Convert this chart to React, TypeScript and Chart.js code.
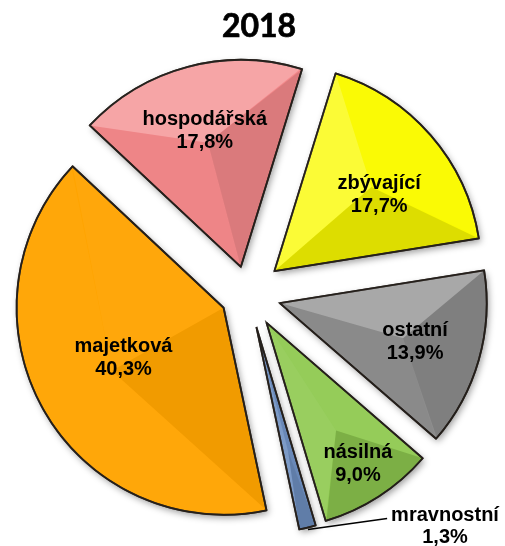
import React, { useEffect, useRef } from "react";
import { Chart, registerables, ArcElement } from "chart.js";

Chart.register(...registerables);

// ---- data ----
const TITLE = "2018";
const categories = ["zbývající", "ostatní", "násilná", "mravnostní", "majetková", "hospodářská"];
const shares = [17.7, 13.9, 9.0, 1.3, 40.3, 17.8];
const colors = ["#FAFA00", "#8E8E8E", "#8FCA50", "#6E8FC0", "#FFA400", "#F4898B"];

// ---- styling / layout constants ----
const EXPLODE = [35, 33, 34, 34, 28, 28];
const START_ROTATION = 17.2;
const PIE_RADIUS = 207;
const LABEL_PLACE: Array<{ r?: number; a?: number; outside?: boolean }> = [
  { r: 0.625, a: 5 },
  { r: 0.68, a: 0 },
  { r: 0.815, a: 0 },
  { outside: true },
  { r: 0.54, a: 3 },
  { r: 0.68, a: 0 },
];
const LABEL_FONT = 'bold 20px "Liberation Sans", Arial, sans-serif';

const fmt = (v: number) => v.toFixed(1).replace(".", ",") + "%";

// Exploded, bevelled arc drawing (geometry from Chart.js' own arc elements)
const proto: any = ArcElement.prototype;
if (!proto.__exploded) {
  proto.__exploded = true;
  const baseDraw = proto.draw;
  proto.draw = function (ctx: CanvasRenderingContext2D) {
    const x = this.x, y = this.y, s = this.startAngle, e = this.endAngle, R = this.outerRadius;
    if (!(e - s > 0) || R <= 0) return;
    const mid = (s + e) / 2;
    const ex0 = this.$explode || 0;
    ctx.save();
    ctx.translate(Math.cos(mid) * ex0, Math.sin(mid) * ex0);
    const path = () => {
      ctx.beginPath();
      ctx.moveTo(x, y);
      ctx.arc(x, y, R, s, e);
      ctx.closePath();
    };
    // shadow pass
    ctx.save();
    path();
    ctx.shadowColor = "rgba(0,0,0,0.4)";
    ctx.shadowBlur = 7;
    ctx.shadowOffsetX = 2;
    ctx.shadowOffsetY = 3;
    ctx.fillStyle = this.options.backgroundColor;
    ctx.fill();
    ctx.restore();
    // library fill + border
    baseDraw.call(this, ctx);
    // bevel facets
    ctx.save();
    path();
    ctx.clip();
    const L = { x: -0.6, y: -0.8 };
    const px = x + Math.cos(mid) * R * 0.62, py = y + Math.sin(mid) * R * 0.62;
    const bx = x + Math.cos(s) * R, by = y + Math.sin(s) * R;
    const ex = x + Math.cos(e) * R, ey = y + Math.sin(e) * R;
    const shade = (nx: number, ny: number) => {
      const b = nx * L.x + ny * L.y;
      return b > 0 ? `rgba(255,255,255,${(0.26 * b).toFixed(3)})` : `rgba(0,0,0,${(-0.13 * b).toFixed(3)})`;
    };
    ctx.beginPath();
    ctx.moveTo(x, y); ctx.lineTo(bx, by); ctx.lineTo(px, py); ctx.closePath();
    ctx.fillStyle = shade(Math.sin(s), -Math.cos(s));
    ctx.fill();
    ctx.beginPath();
    ctx.moveTo(px, py); ctx.lineTo(bx, by); ctx.arc(x, y, R + 2, s, e); ctx.lineTo(px, py); ctx.closePath();
    ctx.fillStyle = shade(Math.cos(mid), Math.sin(mid));
    ctx.fill();
    ctx.beginPath();
    ctx.moveTo(x, y); ctx.lineTo(ex, ey); ctx.lineTo(px, py); ctx.closePath();
    ctx.fillStyle = shade(-Math.sin(e), Math.cos(e));
    ctx.fill();
    ctx.restore();
    // re-stroke border
    path();
    ctx.lineJoin = "miter";
    ctx.lineWidth = this.options.borderWidth;
    ctx.strokeStyle = this.options.borderColor;
    ctx.stroke();
    ctx.restore();
  };
}

const explodePlugin = {
  id: "explodeSlices",
  beforeDatasetsDraw(chart: any) {
    chart.getDatasetMeta(0).data.forEach((arc: any, i: number) => {
      arc.$explode = EXPLODE[i] || 0;
    });
  },
};

const labelPlugin = {
  id: "sliceLabels",
  afterDatasetsDraw(chart: any) {
    const meta = chart.getDatasetMeta(0);
    const ctx: CanvasRenderingContext2D = chart.ctx;
    ctx.save();
    ctx.font = LABEL_FONT;
    ctx.fillStyle = "#000";
    ctx.textAlign = "center";
    ctx.textBaseline = "middle";
    meta.data.forEach((arc: any, i: number) => {
      const { x, y, startAngle, endAngle, outerRadius } = arc;
      const mid = (startAngle + endAngle) / 2;
      const d = EXPLODE[i] || 0;
      const cx = x + Math.cos(mid) * d;
      const cy = y + Math.sin(mid) * d;
      const l1 = categories[i];
      const l2 = fmt(shares[i]);
      const place = LABEL_PLACE[i];
      if (place.outside) {
        const tipX = cx + Math.cos(mid) * (outerRadius + 2);
        const tipY = cy + Math.sin(mid) * (outerRadius + 2);
        const lx = tipX + 137;
        const w = ctx.measureText(l1).width;
        ctx.beginPath();
        ctx.moveTo(tipX, tipY);
        ctx.lineTo(lx - w / 2 - 4, tipY - 11);
        ctx.lineWidth = 1.5;
        ctx.strokeStyle = "#000";
        ctx.stroke();
        ctx.fillText(l1, lx, tipY - 14);
        ctx.fillText(l2, lx, tipY + 8);
      } else {
        const a = mid + ((place.a || 0) * Math.PI) / 180;
        const lx = cx + Math.cos(a) * outerRadius * (place.r || 0.6);
        const ly = cy + Math.sin(a) * outerRadius * (place.r || 0.6);
        ctx.fillText(l1, lx, ly - 11.5);
        ctx.fillText(l2, lx, ly + 11.5);
      }
    });
    ctx.restore();
  },
};

export default function App() {
  const ref = useRef<HTMLCanvasElement | null>(null);
  useEffect(() => {
    if (!ref.current) return;
    const chart = new Chart(ref.current, {
      type: "pie",
      data: {
        labels: categories,
        datasets: [
          {
            data: shares,
            backgroundColor: colors,
            borderColor: "rgba(35,30,25,0.9)",
            borderWidth: 1.8,
            rotation: START_ROTATION,
            radius: PIE_RADIUS,
          } as any,
        ],
      },
      options: {
        responsive: false,
        animation: false,
        events: [],
        layout: { padding: { top: 42, bottom: 0, left: 0, right: 9 } },
        plugins: {
          legend: { display: false },
          tooltip: { enabled: false },
          title: { display: false },
        },
      },
      plugins: [explodePlugin, labelPlugin],
    });
    return () => chart.destroy();
  }, []);
  return (
    <div style={{ position: "absolute", left: 0, top: 0, width: 505, height: 546, background: "#fff" }}>
      <canvas ref={ref} width={505} height={546} style={{ display: "block" }} />
      <div
        style={{
          position: "absolute",
          left: 13,
          top: 6,
          width: 492,
          textAlign: "center",
          font: "bold 32px Lato, sans-serif",
          lineHeight: "38px",
          color: "#000",
          WebkitTextStroke: "0.7px #000",
        }}
      >
        {TITLE}
      </div>
    </div>
  );
}
